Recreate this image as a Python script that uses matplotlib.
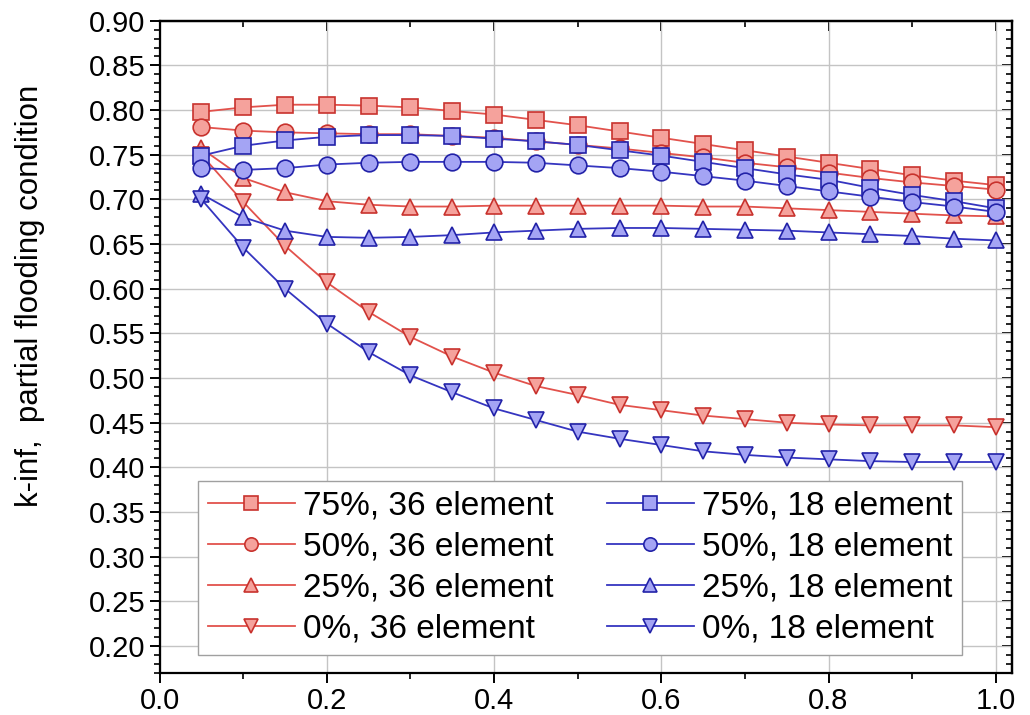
import matplotlib
matplotlib.use("Agg")
import matplotlib.pyplot as plt
from matplotlib.ticker import MultipleLocator, FormatStrFormatter

plt.rcParams['font.family'] = ['Liberation Sans', 'DejaVu Sans']

# x positions along the channel (fraction)
x = [0.05, 0.10, 0.15, 0.20, 0.25, 0.30, 0.35, 0.40, 0.45, 0.50,
     0.55, 0.60, 0.65, 0.70, 0.75, 0.80, 0.85, 0.90, 0.95, 1.00]

# 36 element model
k75_36 = [0.798, 0.803, 0.806, 0.806, 0.805, 0.803, 0.799, 0.795, 0.789, 0.783,
          0.776, 0.769, 0.762, 0.755, 0.748, 0.741, 0.734, 0.727, 0.721, 0.716]
k50_36 = [0.781, 0.777, 0.775, 0.774, 0.773, 0.773, 0.771, 0.769, 0.765, 0.761,
          0.757, 0.752, 0.747, 0.741, 0.736, 0.730, 0.724, 0.719, 0.715, 0.711]
k25_36 = [0.757, 0.724, 0.708, 0.698, 0.694, 0.692, 0.692, 0.693, 0.693, 0.693,
          0.693, 0.693, 0.692, 0.692, 0.690, 0.688, 0.686, 0.684, 0.682, 0.681]
k00_36 = [0.750, 0.697, 0.648, 0.607, 0.574, 0.546, 0.524, 0.506, 0.491, 0.481,
          0.470, 0.464, 0.458, 0.454, 0.450, 0.448, 0.447, 0.447, 0.447, 0.445]

# 18 element model
k75_18 = [0.749, 0.760, 0.766, 0.770, 0.772, 0.772, 0.771, 0.768, 0.765, 0.761,
          0.755, 0.749, 0.742, 0.735, 0.728, 0.722, 0.713, 0.705, 0.698, 0.690]
k50_18 = [0.735, 0.733, 0.735, 0.739, 0.741, 0.742, 0.742, 0.742, 0.741, 0.738,
          0.735, 0.731, 0.726, 0.721, 0.715, 0.709, 0.703, 0.697, 0.692, 0.686]
k25_18 = [0.706, 0.680, 0.665, 0.658, 0.657, 0.658, 0.660, 0.663, 0.665, 0.667,
          0.668, 0.668, 0.667, 0.666, 0.665, 0.663, 0.661, 0.659, 0.656, 0.654]
k00_18 = [0.700, 0.646, 0.600, 0.561, 0.529, 0.503, 0.484, 0.466, 0.453, 0.440,
          0.432, 0.425, 0.418, 0.414, 0.411, 0.409, 0.407, 0.406, 0.406, 0.406]

labels_36 = ["75%, 36 element", "50%, 36 element", "25%, 36 element", "0%, 36 element"]
labels_18 = ["75%, 18 element", "50%, 18 element", "25%, 18 element", "0%, 18 element"]
markers = ["s", "o", "^", "v"]

red = dict(color="#e2524c", mfc="#f5a29c", mec="#c8322d")
blue = dict(color="#3535c0", mfc="#a4a4f4", mec="#2222a8")

fig = plt.figure(figsize=(10.3, 7.15), dpi=100)
ax = fig.add_axes([0.155, 0.059, 0.828, 0.912])

for ys, lab, m in zip([k75_36, k50_36, k25_36, k00_36], labels_36, markers):
    ax.plot(x, ys, marker=m, ms=12, lw=1.3, mew=1.2, label=lab, **red)
for ys, lab, m in zip([k75_18, k50_18, k25_18, k00_18], labels_18, markers):
    ax.plot(x, ys, marker=m, ms=12, lw=1.3, mew=1.2, label=lab, **blue)

ax.set_xlim(0, 1.02)
ax.set_ylim(0.17, 0.90)
ax.xaxis.set_major_locator(MultipleLocator(0.2))
ax.xaxis.set_minor_locator(MultipleLocator(0.1))
ax.yaxis.set_major_locator(MultipleLocator(0.05))
ax.yaxis.set_minor_locator(MultipleLocator(0.01))
ax.xaxis.set_major_formatter(FormatStrFormatter("%.1f"))
ax.yaxis.set_major_formatter(FormatStrFormatter("%.2f"))

ax.grid(True, which="major", color="#c4c4c4", lw=1.0)
ax.set_axisbelow(True)
for s in ax.spines.values():
    s.set_linewidth(1.6)

ax.tick_params(axis="both", which="major", labelsize=21, length=7, width=1.4, direction="out")
ax.tick_params(axis="both", which="minor", length=4, width=1.2, direction="out")

# mirrored ticks on the top and right, pointing inward
top = ax.secondary_xaxis("top")
top.xaxis.set_major_locator(MultipleLocator(0.2))
top.xaxis.set_minor_locator(MultipleLocator(0.1))
top.tick_params(which="major", direction="in", length=7, width=1.4, labeltop=False)
top.tick_params(which="minor", direction="in", length=4, width=1.2)
top.spines["top"].set_linewidth(1.6)
right = ax.secondary_yaxis("right")
right.yaxis.set_major_locator(MultipleLocator(0.05))
right.yaxis.set_minor_locator(MultipleLocator(0.01))
right.tick_params(which="major", direction="in", length=7, width=1.4, labelright=False)
right.tick_params(which="minor", direction="in", length=4, width=1.2)
right.spines["right"].set_linewidth(1.6)

ax.set_ylabel("k-inf,  partial flooding condition", fontsize=22.5)
ax.yaxis.set_label_coords(-0.135, 0.578)

ax.legend(ncol=2, fontsize=24, loc="lower left", bbox_to_anchor=(0.045, 0.028),
          frameon=True, fancybox=False, edgecolor="#a0a0a0", framealpha=1,
          handlelength=2.6, handletextpad=0.25, columnspacing=1.6,
          labelspacing=0.3, borderpad=0.3, borderaxespad=0, markerscale=0.8)

fig.savefig("out.png", dpi=100)
